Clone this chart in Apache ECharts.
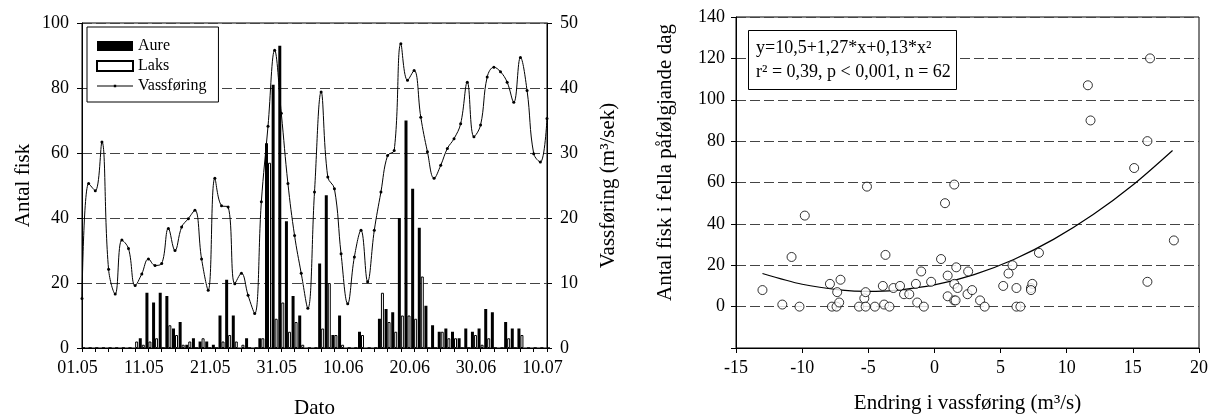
<!DOCTYPE html>
<html>
<head>
<meta charset="utf-8">
<title>Aure og laks - vassføring</title>
<script src="https://cdn.jsdelivr.net/npm/echarts@6/dist/echarts.min.js"></script>
<style>
  html, body { margin: 0; padding: 0; background: #fff; }
  #chart { width: 1218px; height: 414px; }
</style>
</head>
<body>
<div id="chart"></div>
<script>
// dato (01.05 - 10.07)
var dates = [
  '01.05','02.05','03.05','04.05','05.05','06.05','07.05','08.05','09.05','10.05',
  '11.05','12.05','13.05','14.05','15.05','16.05','17.05','18.05','19.05','20.05',
  '21.05','22.05','23.05','24.05','25.05','26.05','27.05','28.05','29.05','30.05',
  '31.05','01.06','02.06','03.06','04.06','05.06','06.06','07.06','08.06','09.06',
  '10.06','11.06','12.06','13.06','14.06','15.06','16.06','17.06','18.06','19.06',
  '20.06','21.06','22.06','23.06','24.06','25.06','26.06','27.06','28.06','29.06',
  '30.06','01.07','02.07','03.07','04.07','05.07','06.07','07.07','08.07','09.07',
  '10.07'
];
// antal aure per dag
var aure = [
  0,0,0,0,0,0,0,0,0,3,
  17,14,17,16,6,8,1,3,2,2,
  1,10,21,10,0,3,0,3,63,81,
  93,39,16,10,0,0,26,47,4,10,
  0,0,5,0,0,9,12,11,40,70,
  49,37,13,7,5,6,5,3,6,5,
  6,12,11,0,8,6,6,0,0,0,
  0
];
// antal laks per dag
var laks = [
  0,0,0,0,0,0,0,0,2,1,
  2,3,0,7,4,1,2,0,3,0,
  0,2,4,2,1,0,0,3,57,9,
  14,5,8,1,0,0,6,20,4,1,
  0,0,4,0,0,17,8,5,10,10,
  9,22,0,0,5,3,3,0,0,4,
  1,3,0,0,3,0,4,0,0,0,
  0
];
// vassføring m3/sek
var vassforing = [
  7.6,25.3,24.2,31.7,12.1,8.3,16.6,15.3,9.6,11.4,
  13.7,12.7,13.0,18.4,15.0,18.6,19.9,21.2,13.7,8.9,
  26.1,21.9,21.7,9.9,11.5,8.1,5.3,22.5,34.1,45.8,
  36.1,25.3,17.3,11.5,6.1,24.0,39.4,26.3,24.5,14.5,
  6.8,14.0,18.1,10.2,18.1,24.0,29.6,30.4,46.8,41.2,
  42.7,35.5,30.2,26.1,28.1,30.7,32.2,34.5,40.9,32.5,
  34.3,41.7,43.2,42.5,40.9,37.8,44.7,39.6,29.9,28.6,
  35.3
];

// endring i vassføring (x) og antal fisk neste dag (y)
var endring = [
  -13,-11.5,-10.8,-10.2,-9.8,-7.9,-7.75,-7.4,-7.35,-7.2,
  -7.1,-5.7,-5.3,-5.2,-5.2,-5.1,-4.5,-3.9,-3.8,-3.7,
  -3.4,-3.1,-2.6,-2.3,-1.9,-1.4,-1.3,-1.0,-0.8,-0.25,
  0.5,0.8,1.0,1.0,1.5,1.5,1.6,1.65,1.5,1.75,
  2.55,2.5,2.85,3.45,3.8,5.2,5.6,5.9,6.2,6.2,
  6.5,7.3,7.4,7.9,11.6,11.8,15.1,16.1,16.1,16.3,
  18.1,7.3
];
var fiskNeste = [
  8,1,24,0,44,11,0,0,7,2,
  13,0,4,7,0,58,0,10,1,25,
  0,9,10,6,6,11,2,17,0,12,
  23,50,15,5,59,3,3,19,11,9,
  17,6,8,3,0,10,16,20,9,0,
  0,9,11,26,107,90,67,80,12,120,
  32,8
];
// kurve lest av figuren
var kurveX = [-13,-10,-7,-5,-3,0,3,6,9,12,15,18];
var kurveY = [16,10.8,8.0,7.4,7.9,10.5,15.5,22.8,32.5,44.5,58.8,75.5];

var FONT = "'Liberation Serif', 'Times New Roman', serif";
var txt = { fontFamily: FONT, fontSize: 18, color: '#000' };
var titleTxt = { fontFamily: FONT, fontSize: 21, color: '#000' };

var punkt = [];
for (var i = 0; i < endring.length; i++) punkt.push([endring[i], fiskNeste[i]]);
var kurve = [];
for (var j = 0; j < kurveX.length; j++) kurve.push([kurveX[j], kurveY[j]]);

var mychart = echarts.init(document.getElementById('chart'));
var option = {
  animation: false,
  textStyle: { fontFamily: FONT, color: '#000' },
  grid: [
    { left: 82, right: 671, top: 23, bottom: 66, show: true, borderColor: '#000', borderWidth: 1, outerBoundsMode: 'none', containLabel: false },
    { left: 736, right: 19, top: 17, bottom: 66, show: true, borderColor: '#000', borderWidth: 1, outerBoundsMode: 'none', containLabel: false }
  ],
  legend: {
    data: [
      { name: 'Aure', icon: 'rect' },
      { name: 'Laks', icon: 'rect' },
      { name: 'Vassføring', icon: 'path://M0,4.5H36V5.5H0Z M16.8,3.8H19.2V6.2H16.8Z' }
    ],
    orient: 'vertical',
    left: 87, top: 27,
    padding: [11, 12, 8, 9],
    itemGap: 4,
    itemWidth: 36, itemHeight: 10,
    backgroundColor: '#fff',
    borderColor: '#000', borderWidth: 1,
    textStyle: { fontFamily: FONT, fontSize: 16, color: '#000' }
  },
  title: {
    text: 'y=10,5+1,27*x+0,13*x²\nr² = 0,39, p < 0,001, n = 62',
    left: 748, top: 30,
    padding: [6, 6, 6, 8],
    borderColor: '#000', borderWidth: 1, backgroundColor: '#fff',
    textStyle: { fontFamily: FONT, fontSize: 18, fontWeight: 'normal', color: '#000', lineHeight: 24 }
  },
  xAxis: [
    {
      type: 'category', gridIndex: 0, data: dates, boundaryGap: false,
      axisLine: { lineStyle: { color: '#000', width: 1 } },
      axisTick: { interval: 1, length: 4, lineStyle: { color: '#000' } },
      axisLabel: Object.assign({ interval: 9, margin: 11, padding: [0, 9, 0, 0] }, txt),
      splitLine: { show: false },
      name: 'Dato', nameLocation: 'middle', nameGap: 50,
      nameTextStyle: titleTxt
    },
    {
      type: 'value', gridIndex: 1, min: -15, max: 20, interval: 5,
      axisLine: { onZero: false, lineStyle: { color: '#000' } },
      axisTick: { length: 5, lineStyle: { color: '#000' } },
      axisLabel: Object.assign({ margin: 11 }, txt),
      splitLine: { show: false },
      name: 'Endring i vassføring (m³/s)', nameLocation: 'middle', nameGap: 45,
      nameTextStyle: titleTxt
    }
  ],
  yAxis: [
    {
      type: 'value', gridIndex: 0, position: 'left', min: 0, max: 100, interval: 20,
      axisLine: { show: true, lineStyle: { color: '#000' } },
      axisTick: { show: true, length: 5, lineStyle: { color: '#000' } },
      axisLabel: Object.assign({ margin: 13 }, txt),
      splitLine: { show: true, lineStyle: { color: '#444', type: [10, 4], width: 1 } },
      name: 'Antal fisk', nameLocation: 'middle', nameGap: 48, nameRotate: 90,
      nameTextStyle: titleTxt
    },
    {
      type: 'value', gridIndex: 0, position: 'right', min: 0, max: 50, interval: 10,
      axisLine: { show: true, lineStyle: { color: '#000' } },
      axisTick: { show: true, length: 5, lineStyle: { color: '#000' } },
      axisLabel: Object.assign({ margin: 13 }, txt),
      splitLine: { show: false },
      name: 'Vassføring (m³/sek)', nameLocation: 'middle', nameGap: 51, nameRotate: 90,
      nameTextStyle: titleTxt
    },
    {
      type: 'value', gridIndex: 1, min: -20, max: 140, interval: 20,
      axisLine: { show: true, onZero: false, lineStyle: { color: '#000' } },
      axisTick: { show: true, length: 5, lineStyle: { color: '#000' } },
      axisLabel: Object.assign({
        margin: 11,
        formatter: function (v) { return v < 0 ? '' : v; }
      }, txt),
      splitLine: { show: true, lineStyle: { color: '#444', type: [10, 4], width: 1 } },
      name: 'Antal fisk i fella påfølgjande dag', nameLocation: 'middle', nameGap: 60, nameRotate: 90,
      nameTextStyle: Object.assign({ padding: [0, 0, 0, 40] }, titleTxt)
    }
  ],
  series: [
    {
      name: 'Aure', type: 'bar', xAxisIndex: 0, yAxisIndex: 0,
      data: aure, barWidth: 3, barGap: '0%',
      itemStyle: { color: '#000' }
    },
    {
      name: 'Laks', type: 'bar', xAxisIndex: 0, yAxisIndex: 0,
      data: laks, barWidth: 3, barGap: '0%',
      itemStyle: { color: '#fff', borderColor: '#000', borderWidth: 1 }
    },
    {
      name: 'Vassføring', type: 'line', xAxisIndex: 0, yAxisIndex: 1,
      data: vassforing, smooth: 0.4,
      symbol: 'circle', symbolSize: 3, showAllSymbol: true,
      itemStyle: { color: '#000' },
      lineStyle: { color: '#000', width: 1 },
      z: 5
    },
    {
      name: 'Endring', type: 'scatter', xAxisIndex: 1, yAxisIndex: 2,
      data: punkt, symbol: 'circle', symbolSize: 9,
      itemStyle: { color: '#fff', borderColor: '#000', borderWidth: 1 },
      z: 4
    },
    {
      name: 'Kurve', type: 'line', xAxisIndex: 1, yAxisIndex: 2,
      data: kurve, smooth: 0.3, symbol: 'none',
      lineStyle: { color: '#000', width: 1.2 },
      z: 3
    }
  ]
};
mychart.setOption(option);
</script>
</body>
</html>
